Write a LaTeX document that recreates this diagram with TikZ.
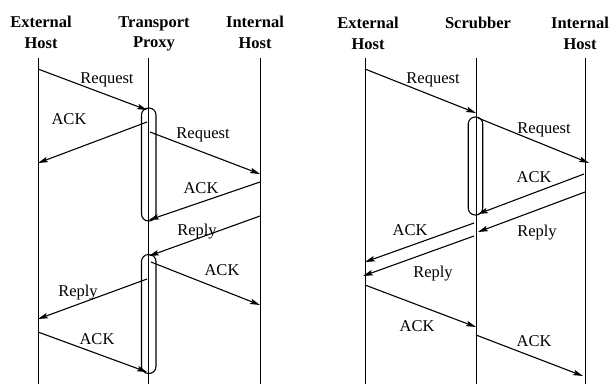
\documentclass[tikz,border=0pt]{standalone}
\usepackage{fontspec}
\setmainfont{Liberation Serif}
\usetikzlibrary{arrows.meta}
\begin{document}
\begin{tikzpicture}[x=1pt,y=-1pt,
  life/.style={line width=1pt},
  msg/.style={line width=1.1pt,-{Stealth[length=10pt,width=5.5pt,inset=2pt]}},
  hdr/.style={font=\fontsize{16.5}{20.5}\selectfont\bfseries,align=center,anchor=north,inner sep=0pt},
  lbl/.style={font=\fontsize{16.5}{18}\selectfont,anchor=base,inner sep=0pt},
  actbox/.style={draw,line width=1.1pt,rounded corners=7pt,minimum width=14.5pt,inner sep=0pt}]
\useasboundingbox (0,0) rectangle (612,384);
% headers
\node[hdr] (hE1) at (41,16) {External\\Host};
\node[hdr] (hP) at (154,16) {Transport\\Proxy};
\node[hdr] (hI1) at (255,16) {Internal\\Host};
\node[hdr] (hE2) at (368,17) {External\\Host};
\node[hdr] (hS) at (478,17) {Scrubber};
\node[hdr] (hI2) at (580,17) {Internal\\Host};
% lifelines
\coordinate (e1t) at (38,58); \coordinate (e1b) at (38,384);
\coordinate (p1t) at (148,58); \coordinate (p1b) at (148,384);
\coordinate (i1t) at (260,58); \coordinate (i1b) at (260,384);
\coordinate (e2t) at (365,58); \coordinate (e2b) at (365,384);
\coordinate (s2t) at (476,58); \coordinate (s2b) at (476,384);
\coordinate (i2t) at (585,58); \coordinate (i2b) at (585,384);
\foreach \a/\b in {e1t/e1b,p1t/p1b,i1t/i1b,e2t/e2b,s2t/s2b,i2t/i2b}
  \draw[life] (\a) -- (\b);
% activation boxes
\node[actbox,minimum height=113pt] (box1) at (148.75,164.5) {};
\node[actbox,minimum height=119pt] (box2) at (148.75,314) {};
\node[actbox,minimum height=98pt] (box3) at (475.5,166) {};
% left messages
\coordinate (a1s) at (38,69);   \coordinate (a1e) at (147,110);
\coordinate (a2s) at (147,122); \coordinate (a2e) at (38,163);
\coordinate (a3s) at (150,132); \coordinate (a3e) at (260,174);
\coordinate (a4s) at (260,182); \coordinate (a4e) at (149,220);
\coordinate (a5s) at (260,216); \coordinate (a5e) at (149,256);
\coordinate (a6s) at (151,262); \coordinate (a6e) at (260,305);
\coordinate (a7s) at (147,279); \coordinate (a7e) at (38,319);
\coordinate (a8s) at (38,332);  \coordinate (a8e) at (147,372);
% right messages
\coordinate (b1s) at (365,69);  \coordinate (b1e) at (476,113);
\coordinate (b2s) at (478,118); \coordinate (b2e) at (589,163);
\coordinate (b3s) at (584,174); \coordinate (b3e) at (478,214);
\coordinate (b4s) at (585,192); \coordinate (b4e) at (478,232);
\coordinate (b5s) at (474,223); \coordinate (b5e) at (365,262);
\coordinate (b6s) at (474,236); \coordinate (b6e) at (363,276);
\coordinate (b7s) at (365,285); \coordinate (b7e) at (476,327);
\coordinate (b8s) at (476,335); \coordinate (b8e) at (583,376);
\foreach \m in {a1,a2,a3,a4,a5,a6,a7,a8,b1,b2,b3,b4,b5,b6,b7,b8}
  \draw[msg] (\m s) -- (\m e);
% labels left
\node[lbl] (la1) at (107,83) {Request};
\node[lbl] (la2) at (69,124) {ACK};
\node[lbl] (la3) at (203,138) {Request};
\node[lbl] (la4) at (201,193) {ACK};
\node[lbl] (la5) at (197,235) {Reply};
\node[lbl] (la6) at (222,275) {ACK};
\node[lbl] (la7) at (78,296) {Reply};
\node[lbl] (la8) at (97,344) {ACK};
% labels right
\node[lbl] (lb1) at (433,83) {Request};
\node[lbl] (lb2) at (544,133) {Request};
\node[lbl] (lb3) at (534,182) {ACK};
\node[lbl] (lb4) at (537,236) {Reply};
\node[lbl] (lb5) at (410,235) {ACK};
\node[lbl] (lb6) at (433,277) {Reply};
\node[lbl] (lb7) at (417,331) {ACK};
\node[lbl] (lb8) at (534,346) {ACK};
\end{tikzpicture}
\end{document}
